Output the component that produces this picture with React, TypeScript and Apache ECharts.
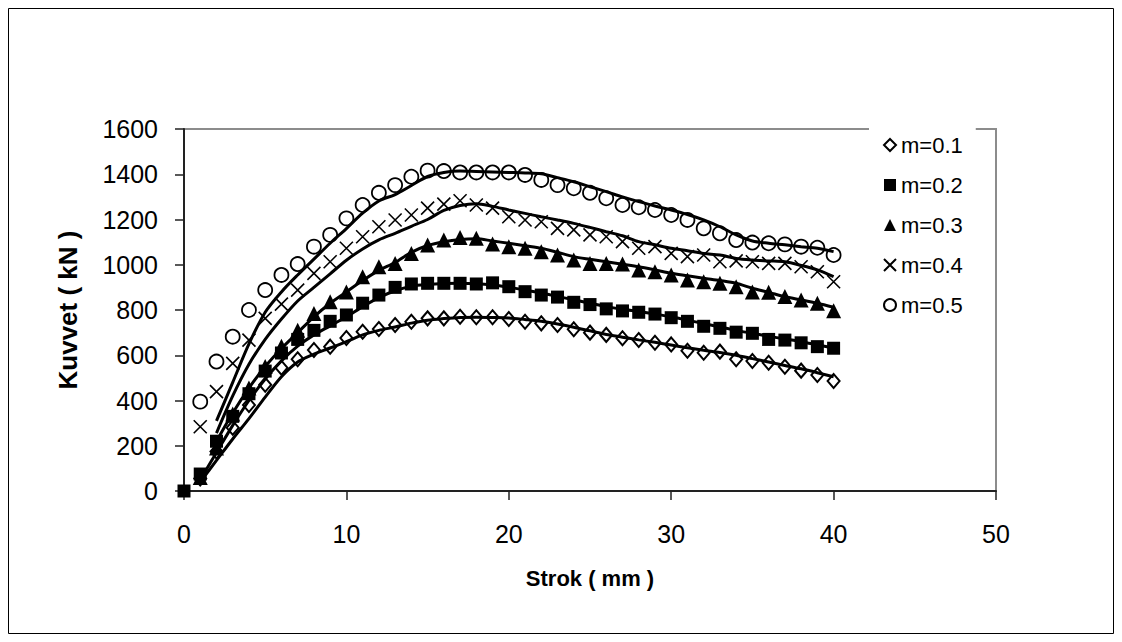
import React, { useEffect, useRef } from "react";
import * as echarts from "echarts";

// Experimental points (x = stroke mm)
const xFrom0 = Array.from({ length: 41 }, (_, i) => i);
const xFrom1 = xFrom0.slice(1);
const xFrom2 = xFrom0.slice(2);

const m01Pts = [55, 175, 280, 380, 470, 545, 582, 623, 638, 676, 704, 716, 734, 748, 763, 763, 770, 768, 768, 760, 748, 741, 734, 715, 700, 690, 675, 667, 655, 648, 620, 611, 616, 582, 575, 567, 549, 532, 513, 486];
const m02Pts = [0, 75, 220, 330, 430, 530, 610, 670, 710, 750, 778, 830, 866, 900, 915, 918, 918, 918, 915, 920, 903, 881, 866, 857, 834, 824, 805, 796, 790, 782, 766, 750, 728, 719, 702, 697, 670, 667, 655, 638, 631];
const m03Pts = [60, 190, 340, 455, 550, 640, 710, 785, 837, 880, 947, 991, 1006, 1050, 1087, 1109, 1120, 1117, 1092, 1080, 1073, 1058, 1043, 1021, 1006, 1006, 1003, 977, 969, 955, 933, 925, 918, 903, 880, 878, 860, 844, 830, 797];
const m04Pts = [284, 439, 564, 667, 763, 826, 888, 962, 1013, 1073, 1124, 1168, 1198, 1220, 1250, 1268, 1283, 1264, 1250, 1212, 1198, 1190, 1161, 1154, 1132, 1124, 1102, 1073, 1080, 1050, 1036, 1043, 1013, 1017, 1013, 1006, 1006, 991, 969, 925];
const m05Pts = [395, 572, 682, 800, 888, 955, 1003, 1080, 1132, 1205, 1264, 1318, 1352, 1389, 1416, 1414, 1408, 1408, 1408, 1408, 1397, 1375, 1352, 1338, 1318, 1294, 1264, 1254, 1242, 1220, 1198, 1161, 1139, 1109, 1098, 1095, 1090, 1080, 1075, 1043];

// Model curves
const m01Line = [40, 135, 230, 320, 415, 505, 570, 605, 632, 660, 690, 710, 725, 742, 755, 762, 767, 768, 767, 765, 758, 750, 738, 724, 708, 692, 680, 668, 657, 645, 633, 622, 612, 600, 585, 570, 555, 540, 523, 505];
const m02Line = [50, 170, 290, 400, 495, 575, 640, 690, 730, 770, 815, 855, 885, 905, 913, 917, 918, 916, 910, 900, 888, 875, 860, 845, 830, 815, 803, 793, 782, 770, 755, 740, 725, 710, 697, 684, 672, 660, 646, 632];
const m03Line = [220, 345, 455, 550, 630, 700, 770, 830, 880, 930, 975, 1010, 1055, 1085, 1102, 1112, 1115, 1105, 1095, 1084, 1073, 1055, 1036, 1024, 1013, 1002, 991, 977, 962, 951, 940, 930, 918, 896, 878, 859, 845, 830, 812];
const m04Line = [256, 420, 560, 670, 760, 840, 900, 960, 1020, 1070, 1110, 1139, 1170, 1200, 1240, 1262, 1270, 1258, 1242, 1227, 1212, 1198, 1183, 1165, 1146, 1128, 1102, 1088, 1073, 1062, 1050, 1043, 1028, 1021, 1017, 1013, 997, 977, 947];
const m05Line = [310, 480, 650, 790, 880, 955, 1025, 1095, 1160, 1228, 1282, 1310, 1350, 1390, 1408, 1414, 1412, 1410, 1408, 1406, 1402, 1385, 1367, 1345, 1323, 1300, 1279, 1260, 1242, 1222, 1198, 1168, 1132, 1105, 1095, 1088, 1080, 1073, 1058];

const seriesNames = ["m=0.1", "m=0.2", "m=0.3", "m=0.4", "m=0.5"];

const pair = (xs: number[], ys: number[]) => ys.map((y, i) => [xs[i], y]);

const FONT = "'Liberation Sans', Arial, sans-serif";

export default function App() {
  const ref = useRef<HTMLDivElement>(null);
  useEffect(() => {
    if (!ref.current) return;
    const chart = echarts.init(ref.current, undefined, { renderer: "svg" });
    const crossPath = "path://M0,0L20,20M20,0L0,20";
    const lineSeries = (name: string, xs: number[], ys: number[]) => ({
      type: "line",
      name,
      data: pair(xs, ys),
      showSymbol: false,
      symbol: "none",
      smooth: 0.3,
      lineStyle: { color: "#000", width: 3 },
      z: 4,
      silent: true,
    });
    chart.setOption({
      animation: false,
      backgroundColor: "#fff",
      textStyle: { fontFamily: FONT },
      grid: {
        left: 184,
        top: 129,
        width: 812,
        height: 362,
        show: true,
        borderColor: "#8c8c8c",
        borderWidth: 2,
        backgroundColor: "transparent",
      },
      graphic: [
        {
          type: "rect",
          shape: { x: 8.5, y: 8.5, width: 1105, height: 625 },
          style: { fill: "none", stroke: "#000", lineWidth: 1 },
          silent: true,
        },
      ],
      legend: {
        data: seriesNames,
        orient: "vertical",
        left: 869,
        top: 124,
        padding: [10, 13, 10, 14],
        backgroundColor: "#fff",
        itemWidth: 12,
        itemHeight: 12,
        itemGap: 18,
        textStyle: { fontSize: 22, lineHeight: 20, color: "#000", fontFamily: FONT },
        selectedMode: false,
      },
      xAxis: {
        type: "value",
        min: 0,
        max: 50,
        interval: 10,
        name: "Strok ( mm )",
        nameLocation: "middle",
        nameGap: 76,
        nameTextStyle: { fontSize: 22, fontWeight: "bold", color: "#000", fontFamily: FONT },
        axisLine: { show: true, lineStyle: { color: "#222", width: 2 } },
        axisTick: { show: true, inside: false, length: 9, lineStyle: { color: "#222", width: 1.5 } },
        axisLabel: { fontSize: 25, color: "#000", margin: 30, fontFamily: FONT, formatter: (v: number) => String(v) },
        splitLine: { show: false },
      },
      yAxis: {
        type: "value",
        min: 0,
        max: 1600,
        interval: 200,
        name: "Kuvvet ( kN )",
        nameLocation: "middle",
        nameRotate: 90,
        nameGap: 103,
        nameTextStyle: { fontSize: 26, fontWeight: "bold", color: "#000", fontFamily: FONT },
        axisLine: { show: true, lineStyle: { color: "#222", width: 2 } },
        axisTick: { show: true, inside: false, length: 9, lineStyle: { color: "#222", width: 1.5 } },
        axisLabel: { fontSize: 25, color: "#000", margin: 26, fontFamily: FONT, formatter: (v: number) => String(v) },
        splitLine: { show: false },
      },
      series: [
        {
          type: "scatter",
          name: seriesNames[0],
          data: pair(xFrom1, m01Pts),
          symbol: "diamond",
          symbolSize: [12, 14],
          itemStyle: { color: "rgba(255,255,255,0)", borderColor: "#000", borderWidth: 2, opacity: 1 },
          z: 3,
        },
        {
          type: "scatter",
          name: seriesNames[1],
          data: pair(xFrom0, m02Pts),
          symbol: "rect",
          symbolSize: 13,
          itemStyle: { color: "#000", opacity: 1 },
          z: 3,
        },
        {
          type: "scatter",
          name: seriesNames[2],
          data: pair(xFrom1, m03Pts),
          symbol: "triangle",
          symbolSize: 15,
          itemStyle: { color: "#000", opacity: 1 },
          z: 3,
        },
        {
          type: "scatter",
          name: seriesNames[3],
          data: pair(xFrom1, m04Pts),
          symbol: crossPath,
          symbolSize: 13,
          itemStyle: { color: "rgba(0,0,0,0)", borderColor: "#000", borderWidth: 1.6, opacity: 1 },
          z: 3,
        },
        {
          type: "scatter",
          name: seriesNames[4],
          data: pair(xFrom1, m05Pts),
          symbol: "circle",
          symbolSize: 14,
          itemStyle: { color: "rgba(255,255,255,0)", borderColor: "#000", borderWidth: 1.8, opacity: 1 },
          z: 3,
        },
        lineSeries("fit 0.1", xFrom1, m01Line),
        lineSeries("fit 0.2", xFrom1, m02Line),
        lineSeries("fit 0.3", xFrom2, m03Line),
        lineSeries("fit 0.4", xFrom2, m04Line),
        lineSeries("fit 0.5", xFrom2, m05Line),
      ],
    });
    return () => chart.dispose();
  }, []);
  return (
    <div
      ref={ref}
      style={{ position: "absolute", left: 0, top: 0, width: 1122, height: 642 }}
    />
  );
}
